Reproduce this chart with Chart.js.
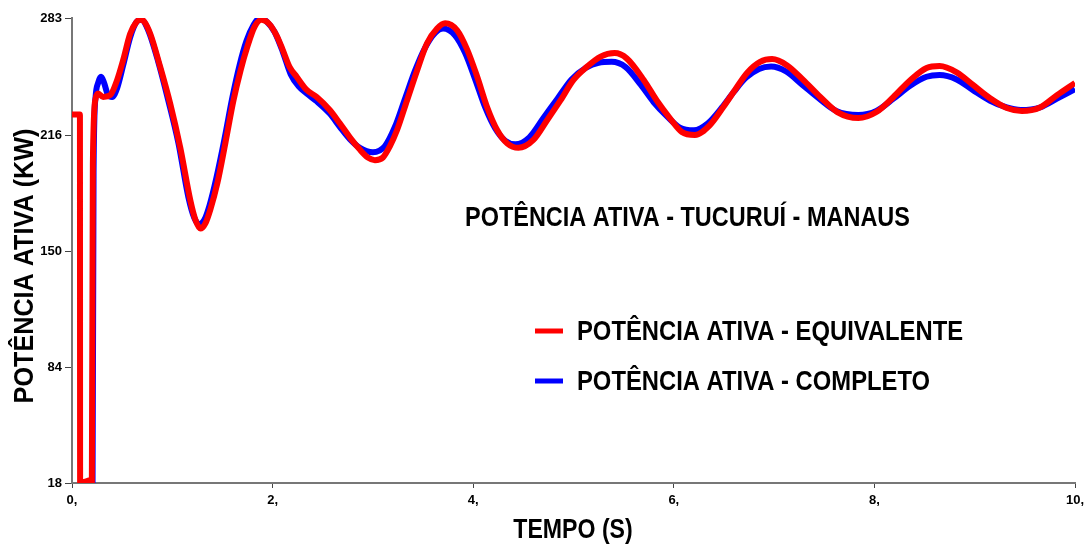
<!DOCTYPE html>
<html>
<head>
<meta charset="utf-8">
<script src="https://cdn.jsdelivr.net/npm/chart.js@4/dist/chart.umd.min.js"></script>
<style>
    body { margin: 0; background: #fff; }
    #wrap { width: 1091px; height: 551px; }
</style>
</head>
<body>
<div id="wrap"><canvas id="potenciaChart" width="1091" height="551"></canvas></div>
<script>
// Valores (tempo em s, potencia em KW)
const timeEquiv = [0, 0.079, 0.081, 0.19, 0.198, 0.208, 0.235, 0.26, 0.31, 0.38, 0.45, 0.51, 0.58, 0.64, 0.68, 0.72,
    0.78, 0.88, 0.98, 1.08, 1.18, 1.23, 1.28, 1.33, 1.38, 1.45, 1.53, 1.61, 1.68, 1.75, 1.82, 1.89, 1.96,
    2.04, 2.1, 2.17, 2.24, 2.34, 2.44, 2.57, 2.67, 2.77, 2.87, 2.95, 3.02, 3.1, 3.17, 3.24, 3.34, 3.44,
    3.54, 3.64, 3.72, 3.84, 3.94, 4.04, 4.14, 4.24, 4.34, 4.45, 4.6, 4.74, 4.87, 5.0, 5.13, 5.27, 5.41,
    5.53, 5.7, 5.83, 5.96, 6.08, 6.21, 6.36, 6.49, 6.61, 6.73, 6.86, 6.98, 7.13, 7.29, 7.46, 7.63, 7.84,
    8.02, 8.19, 8.36, 8.52, 8.65, 8.82, 8.98, 9.15, 9.32, 9.47, 9.65, 9.82, 10];
const powerEquiv = [228, 228, 18, 19.5, 19.5, 200, 237, 240, 238, 239, 247.7, 259, 274, 280.5, 282, 281,
    274, 255, 234, 209, 179, 168, 163, 166, 174, 189, 212, 236, 253, 267, 278, 282, 280,
    273, 265, 255, 249.5, 242, 238, 230.6, 223, 215, 208, 203.5, 202, 203.5, 210, 219, 236, 253,
    268.6, 277, 280, 276, 265, 249.5, 232, 219, 211.5, 209, 213.5, 225, 236, 247.7, 255, 261, 263,
    260, 247.7, 236, 226, 218, 216.3, 222, 232, 242, 251.7, 258, 259.6, 256, 247.7, 238, 229.4, 226,
    229.4, 238, 247.7, 254.5, 255.6, 252, 245, 237.4, 231.7, 230, 232, 239, 246];

const timeComp = [0.2, 0.205, 0.215, 0.235, 0.26, 0.29, 0.32, 0.36, 0.4, 0.45, 0.51, 0.58, 0.64, 0.69, 0.76,
    0.86, 0.96, 1.06, 1.16, 1.22, 1.27, 1.32, 1.37, 1.44, 1.52, 1.6, 1.67, 1.74, 1.81, 1.87, 1.94,
    2.02, 2.1, 2.18, 2.26, 2.34, 2.44, 2.57, 2.67, 2.77, 2.87, 3.0, 3.12, 3.22, 3.32, 3.42, 3.52, 3.62,
    3.7, 3.82, 3.92, 4.02, 4.12, 4.22, 4.32, 4.42, 4.56, 4.7, 4.84, 4.98, 5.12, 5.25, 5.38, 5.52, 5.67,
    5.8, 5.94, 6.06, 6.2, 6.34, 6.48, 6.6, 6.72, 6.85, 6.97, 7.12, 7.28, 7.45, 7.62, 7.84, 8.02, 8.19,
    8.36, 8.52, 8.65, 8.82, 8.98, 9.15, 9.32, 9.46, 9.65, 9.82, 10];
const powerComp = [18, 18, 195, 238, 246, 249.5, 246, 239, 238, 243, 256, 272, 280.5, 282, 276,
    258, 236, 212, 181, 169, 165.5, 168, 176, 192, 214, 238, 256, 270, 279, 283, 281,
    275, 264, 251, 244, 240, 235.5, 228.5, 221, 214, 209, 206.5, 210, 221, 237, 253, 266, 274.5,
    277, 273, 263, 248, 232, 220, 213, 211, 215, 226, 237, 248, 254.5, 257.5, 258, 255, 245,
    235, 226.5, 220.5, 219, 223, 232, 241, 249, 254, 255.3, 252.5, 245, 237, 230, 227.7, 230, 237,
    244.5, 249.5, 250.5, 248, 242, 236, 232, 230.6, 232, 237, 242.5];

const yTicks = [18, 84, 150, 216, 283];
const xTicks = [0, 2, 4, 6, 8, 10];

const chartTitle = 'POTÊNCIA ATIVA - TUCURUÍ - MANAUS';
const yTitle = 'POTÊNCIA ATIVA (KW)';
const xTitle = 'TEMPO (S)';

const bigFont = "bold 28px 'Liberation Sans', Arial, sans-serif";

// texto "estreito": fonte normal comprimida na horizontal
function narrowText(ctx, text, x, y, sx, align) {
    ctx.save();
    ctx.translate(x, y);
    ctx.scale(sx, 1);
    ctx.textAlign = align;
    ctx.fillText(text, 0, 0);
    ctx.restore();
}

// titulo, legenda e titulos dos eixos desenhados por cima
const textPlugin = {
    id: 'textPlugin',
    afterDraw(chart) {
        const ctx = chart.ctx;
        ctx.save();
        ctx.fillStyle = '#000';
        ctx.font = bigFont;
        ctx.textBaseline = 'middle';
        narrowText(ctx, chartTitle, 465, 218, 0.838, 'left');

        const legendY = [331, 381];
        chart.data.datasets.forEach((ds, i) => {
            ctx.strokeStyle = ds.borderColor;
            ctx.lineWidth = 5;
            ctx.beginPath();
            ctx.moveTo(535, legendY[i]);
            ctx.lineTo(563, legendY[i]);
            ctx.stroke();
            narrowText(ctx, ds.label, 577, legendY[i] + 1, 0.85, 'left');
        });

        narrowText(ctx, xTitle, 573, 530, 0.825, 'center');

        ctx.translate(25, 266);
        ctx.rotate(-Math.PI / 2);
        narrowText(ctx, yTitle, 0, 0, 0.9, 'center');
        ctx.restore();
    }
};

const ctx = document.getElementById('potenciaChart').getContext('2d');
const potenciaChart = new Chart(ctx, {
    type: 'line',
    data: {
        datasets: [{
            label: 'POTÊNCIA ATIVA - EQUIVALENTE',
            data: timeEquiv.map((t, i) => ({ x: t, y: powerEquiv[i] })),
            borderColor: '#ff0000',
            borderWidth: 6,
            pointRadius: 0,
            cubicInterpolationMode: 'monotone'
        }, {
            label: 'POTÊNCIA ATIVA - COMPLETO',
            data: timeComp.map((t, i) => ({ x: t, y: powerComp[i] })),
            borderColor: '#0000ff',
            borderWidth: 6,
            pointRadius: 0,
            cubicInterpolationMode: 'monotone'
        }]
    },
    options: {
        responsive: false,
        animation: false,
        layout: { padding: { top: 18, right: 16, left: 0, bottom: 0 } },
        plugins: {
            legend: { display: false },
            tooltip: { enabled: false }
        },
        scales: {
            x: {
                type: 'linear',
                min: 0,
                max: 10,
                afterBuildTicks: scale => { scale.ticks = xTicks.map(v => ({ value: v })); },
                afterFit: scale => { scale.height = 68; },
                border: { color: '#777', width: 2 },
                grid: { drawOnChartArea: false, tickLength: 5, color: '#444' },
                ticks: {
                    padding: 5,
                    color: '#000',
                    maxRotation: 0,
                    font: { family: "'Liberation Sans', Arial, sans-serif", size: 13, weight: 'bold' },
                    callback: v => v + ','
                }
            },
            y: {
                min: 18,
                max: 283,
                afterBuildTicks: scale => { scale.ticks = yTicks.map(v => ({ value: v })); },
                afterFit: scale => { scale.width = 72; },
                border: { color: '#777', width: 2 },
                grid: { drawOnChartArea: false, tickLength: 7, color: '#444' },
                ticks: {
                    padding: 3,
                    color: '#000',
                    font: { family: "'Liberation Sans', Arial, sans-serif", size: 13, weight: 'bold' }
                }
            }
        }
    },
    plugins: [textPlugin]
});
</script>
</body>
</html>
